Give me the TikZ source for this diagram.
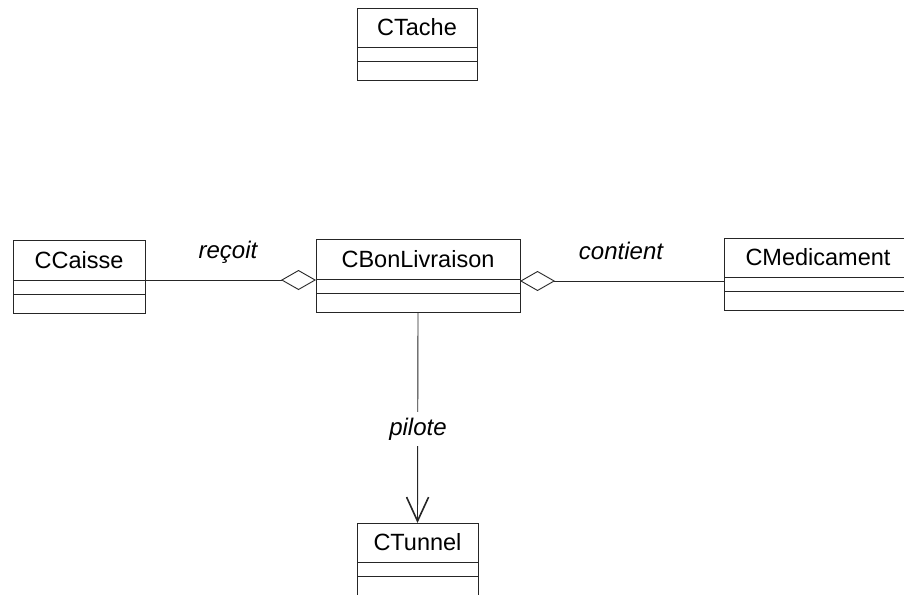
\documentclass[tikz,border=0pt]{standalone}
\usepackage{fontspec}
\setmainfont{Liberation Sans}
\usetikzlibrary{arrows.meta}

\newcommand\classfont{\fontsize{23.5}{28}\selectfont}
\newcommand\rolefont{\fontsize{24}{28}\selectfont\itshape}

% One UML class: name, left x, top y, width, height, header height, title
\newcommand\umlclass[7]{%
  \node[classbox, anchor=north west, minimum width=#4pt, minimum height=#5pt] (#1) at (#2,#3) {};
  \node[classbox, anchor=north west, minimum width=#4pt, minimum height=#6pt, font=\classfont] (#1H) at (#2,#3) {#7};
  \draw[boxline] ([yshift=-14pt]#1H.south west) -- ([yshift=-14pt]#1H.south east);
}

\begin{document}
\begin{tikzpicture}[x=1pt, y=-1pt,
  boxline/.style={line width=0.9pt, draw=black!85},
  classbox/.style={boxline, rectangle, inner sep=0pt, outer sep=0pt},
  assoc/.style={line width=0.9pt, draw=black!85},
  aggr/.style={assoc, {Diamond[open, length=35pt, width=20pt, line width=0.9pt]}-},
  navig/.style={assoc, -{Straight Barb[length=24pt, width=22pt, line width=1.6pt]}},
  role/.style={font=\rolefont, inner sep=1pt}]

\useasboundingbox (0,0) rectangle (904,594);

\umlclass{tache}{357}{8}{120}{72}{39}{CTache}
\umlclass{caisse}{13}{240}{132}{73}{40}{CCaisse}
\umlclass{bon}{316}{239}{204}{73}{40}{CBonLivraison}
\umlclass{med}{724}{238}{188}{72}{39}{CMedicament}
\umlclass{tunnel}{357}{523}{121}{80}{39}{CTunnel}

% aggregations onto CBonLivraison
\draw[aggr] ([yshift=-1pt]bonH.south west) -- ([yshift=-1pt]bonH.south west -| caisse.east);
\node[role, anchor=base] (recoit) at (228,258) {reçoit};

\draw[aggr] ([yshift=-2pt]bonH.south east) -- ([yshift=-2pt]bonH.south east -| med.west);
\node[role, anchor=base] (contient) at (621,259) {contient};

% navigable association towards CTunnel
\draw[navig] (bon.south) -- (tunnel.north);
\node[role, anchor=base, fill=white, inner ysep=6pt] (pilote) at (418,435) {pilote};

\end{tikzpicture}
\end{document}
